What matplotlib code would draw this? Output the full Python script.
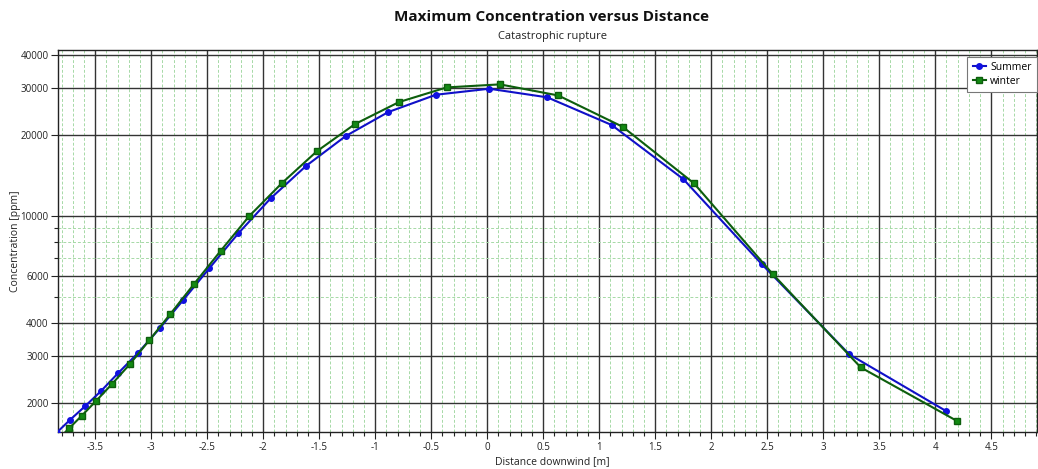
import matplotlib
matplotlib.use("Agg")
import matplotlib.pyplot as plt
from matplotlib.ticker import FixedLocator, NullFormatter, MultipleLocator

plt.rcParams['font.family'] = ['Open Sans', 'Noto Sans', 'DejaVu Sans']

# Data
summer_x = [-3.844, -3.727, -3.592, -3.449, -3.298, -3.119, -2.925, -2.717, -2.482, -2.223,
            -1.934, -1.619, -1.264, -0.884, -0.458, 0.018, 0.536, 1.111, 1.75, 2.45, 3.232, 4.096]
summer_y = [1556, 1733, 1950, 2223, 2588, 3083, 3811, 4846, 6383, 8617,
            11643, 15370, 19885, 24440, 28360, 29860, 27730, 21860, 13740, 6620, 3048, 1873]

winter_x = [-3.846, -3.734, -3.621, -3.494, -3.351, -3.193, -3.018, -2.830, -2.616, -2.380, -2.125,
            -1.836, -1.523, -1.181, -0.788, -0.3625, 0.113, 0.634, 1.209, 1.846, 2.548, 3.334, 4.191]
winter_y = [1447, 1614, 1798, 2040, 2361, 2796, 3438, 4309, 5590, 7420, 10000,
            13240, 17430, 22040, 26630, 30200, 31000, 28180, 21530, 13240, 6077, 2725, 1722]

x_ticks = [-3.5, -3, -2.5, -2, -1.5, -1, -0.5, 0, 0.5, 1, 1.5, 2, 2.5, 3, 3.5, 4, 4.5]
x_tick_labels = ['-3.5', '-3', '-2.5', '-2', '-1.5', '-1', '-0.5', '0', '0.5', '1', '1.5',
                 '2', '2.5', '3', '3.5', '4', '4.5']
y_ticks = [2000, 3000, 4000, 6000, 10000, 20000, 30000, 40000]
y_tick_labels = ['2000', '3000', '4000', '6000', '10000', '20000', '30000', '40000']
y_minor = [5000, 7000, 8000, 9000]

W, H = 1038, 469
fig = plt.figure(figsize=(W / 100, H / 100), dpi=100)
ax = fig.add_axes([58.3 / W, 1 - 432.3 / H, (1037 - 58.3) / W, (432.3 - 50) / H])

ax.set_yscale('log')
ax.set_xlim(-3.83, 4.908)
ax.set_ylim(1560, 41650)

ax.xaxis.set_major_locator(FixedLocator(x_ticks))
ax.set_xticklabels(x_tick_labels)
ax.xaxis.set_minor_locator(MultipleLocator(0.1))
ax.yaxis.set_major_locator(FixedLocator(y_ticks))
ax.set_yticklabels(y_tick_labels)
ax.yaxis.set_minor_locator(FixedLocator(y_minor))
ax.yaxis.set_minor_formatter(NullFormatter())

ax.grid(True, which='major', color='#333333', linewidth=1.0)
ax.grid(True, which='minor', color='#a6d9a6', linewidth=0.7, linestyle=(0, (3, 2)))
ax.set_axisbelow(True)

ax.tick_params(axis='both', which='major', labelsize=7, length=5, width=0.8,
               colors='#222222', pad=2)
ax.tick_params(axis='both', which='minor', length=3, width=0.8, colors='#222222')

for s in ax.spines.values():
    s.set_color('#222222')
    s.set_linewidth(1.0)

ax.plot(summer_x, summer_y, color='#1010c8', linewidth=1.5, marker='o', markersize=4,
        markerfacecolor='#1010e0', markeredgecolor='#1010e0', label='Summer', zorder=3)
ax.plot(winter_x, winter_y, color='#0d5e0d', linewidth=1.5, marker='s', markersize=4.5,
        markerfacecolor='#138a13', markeredgecolor='#0d5e0d', label='winter', zorder=4)

leg = ax.legend(loc='upper right', bbox_to_anchor=(1.0, 1 - 6.7 / 382.3), borderaxespad=0,
                fontsize=7.5, frameon=True, fancybox=False, handlelength=1.3,
                handletextpad=0.4, borderpad=0.5, labelspacing=0.25)
leg.get_frame().set_edgecolor('#777777')
leg.get_frame().set_linewidth(0.8)
leg.get_frame().set_alpha(1)

ax.set_xlabel('Distance downwind [m]', fontsize=7.5, color='#222222')
ax.xaxis.set_label_coords((552 - 58.3) / (1037 - 58.3), -(456 - 432.3) / 382.3)
ax.set_ylabel('Concentration [ppm]', fontsize=7.5, color='#222222')
ax.yaxis.set_label_coords(-(58.3 - 21) / (1037 - 58.3), 0.5)

fig.text(552 / W, 1 - 17 / H, 'Maximum Concentration versus Distance', ha='center', va='center',
         fontsize=11, fontweight='bold', color='#111111')
fig.text(552 / W, 1 - 37 / H, 'Catastrophic rupture', ha='center', va='center',
         fontsize=8, color='#222222')

fig.savefig('out.png', dpi=100)
